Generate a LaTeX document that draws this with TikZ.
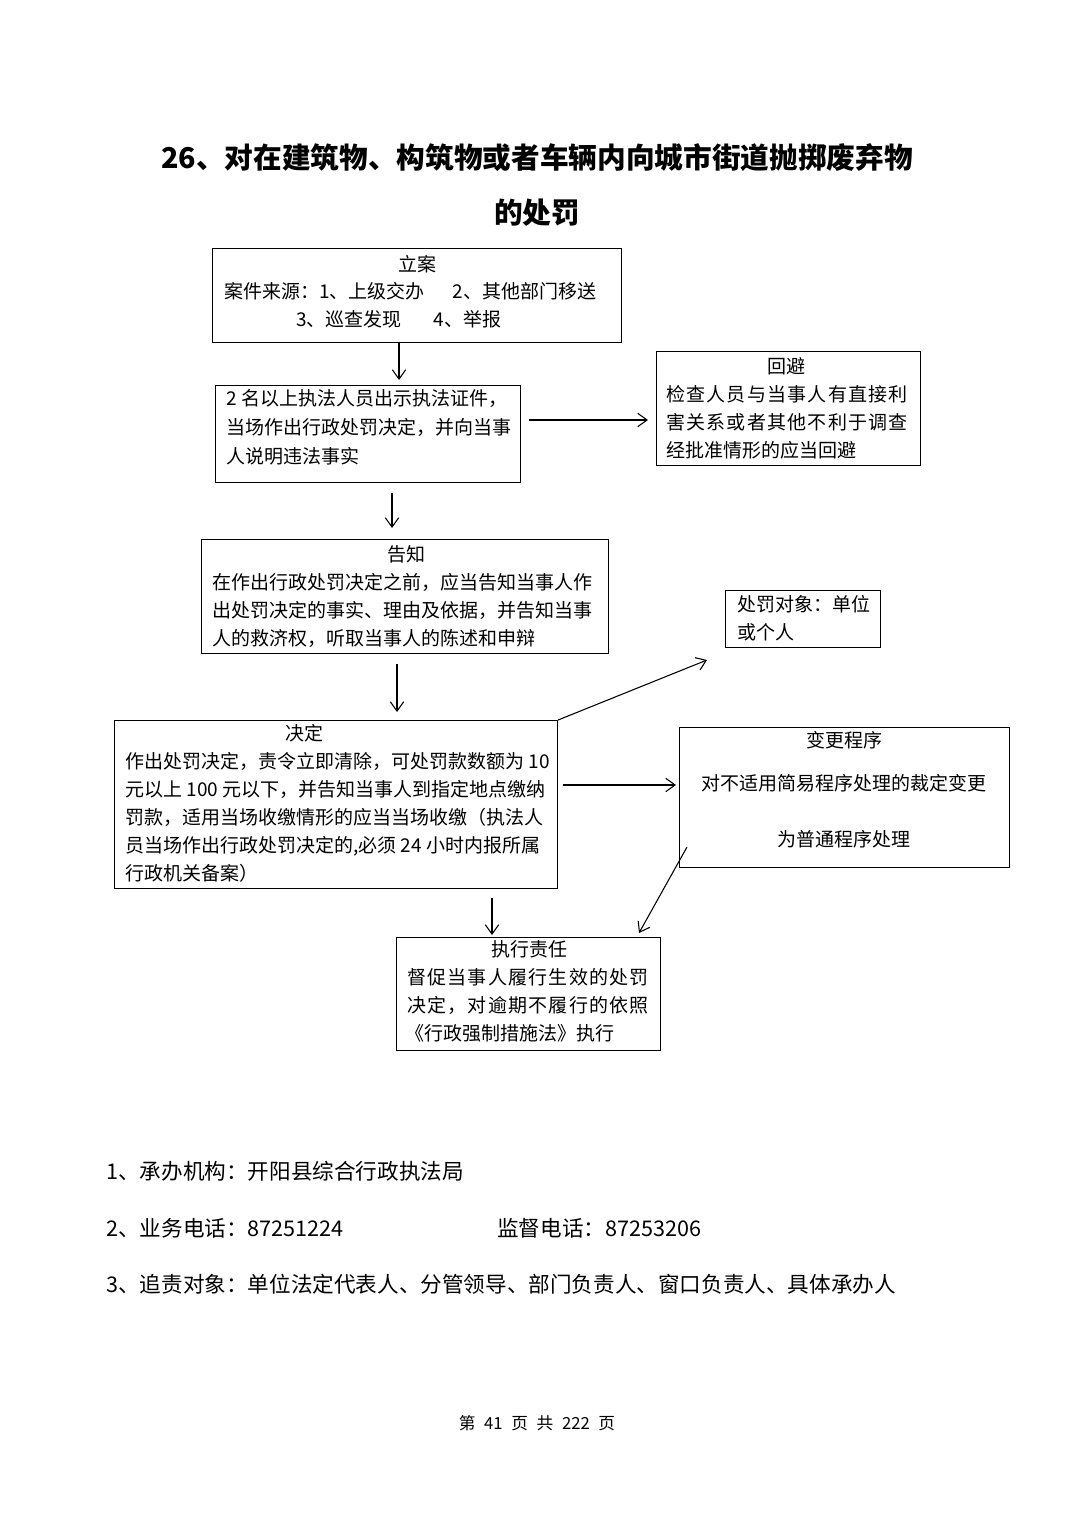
\documentclass[tikz,border=0pt]{standalone}
\usepackage{fontspec}
\setmainfont{Noto Sans CJK SC}
\usetikzlibrary{arrows.meta}
\newcommand\boxfont{\fontsize{14.25pt}{17pt}\selectfont}
\newcommand\wideboxfont{\fontsize{14.25pt}{17pt}\selectfont\addfontfeatures{LetterSpace=6.5}}
\newcommand\titlefont{\fontsize{21.5pt}{26pt}\selectfont\bfseries}
\newcommand\notefont{\fontsize{16.2pt}{20pt}\selectfont}
\newcommand\footfont{\fontsize{12.5pt}{15pt}\selectfont}
\begin{document}
\begin{tikzpicture}[x=0.75pt,y=-0.75pt,
  boxn/.style={draw,line width=0.8pt,inner sep=0pt,anchor=north west},
  lt/.style={inner sep=0pt,anchor=base west,font=\boxfont},
  wlt/.style={inner sep=0pt,anchor=base west,font=\wideboxfont},
  ct/.style={inner sep=0pt,anchor=base,font=\boxfont},
  nt/.style={inner sep=0pt,anchor=base west,font=\notefont},
  arr/.style={line width=0.8pt,-{Straight Barb[length=7pt,width=10pt,line width=0.8pt]}}]
\useasboundingbox[fill=white] (0,0) rectangle (1074,1520);

% title
\node[inner sep=0pt,anchor=base,font=\titlefont] (t1) at (537,168) {26、对在建筑物、构筑物或者车辆内向城市街道抛掷废弃物};
\node[inner sep=0pt,anchor=base,font=\titlefont] (t2) at (537,223) {的处罚};

% boxes
\node[boxn,minimum width=306.75pt,minimum height=70.5pt] (b1) at (212,248) {};
\node[boxn,minimum width=228.75pt,minimum height=72.75pt] (b2) at (215,385) {};
\node[boxn,minimum width=198pt,minimum height=85.5pt] (hb) at (656,351) {};
\node[boxn,minimum width=305.25pt,minimum height=85.5pt] (gz) at (201,539) {};
\node[boxn,minimum width=116.25pt,minimum height=42.75pt] (dx) at (725,590) {};
\node[boxn,minimum width=332.25pt,minimum height=126pt] (jd) at (114,720) {};
\node[boxn,minimum width=247.5pt,minimum height=105pt] (bg) at (679,727) {};
\node[boxn,minimum width=198pt,minimum height=84.75pt] (zx) at (396,937) {};

% box 1 text
\node[ct] (b1h) at (417,271) {立案};
\node[lt] (b1a) at (224,298) {案件来源：1、上级交办\hspace{21pt}2、其他部门移送};
\node[lt] (b1b) at (296,326) {3、巡查发现\hspace{24pt}4、举报};

% box 2 text
\node[lt] (b2a) at (226,405) {2 名以上执法人员出示执法证件，};
\node[lt] (b2b) at (226,434) {当场作出行政处罚决定，并向当事};
\node[lt] (b2c) at (226,463) {人说明违法事实};

% avoid box
\node[ct] (hbh) at (786,373) {回避};
\node[wlt] (hba) at (666,401) {检查人员与当事人有直接利};
\node[wlt] (hbb) at (666,429) {害关系或者其他不利于调查};
\node[lt] (hbc) at (666,457) {经批准情形的应当回避};

% notify box
\node[ct] (gzh) at (406,561) {告知};
\node[lt] (gza) at (212,589) {在作出行政处罚决定之前，应当告知当事人作};
\node[lt] (gzb) at (212,617) {出处罚决定的事实、理由及依据，并告知当事};
\node[lt] (gzc) at (212,645) {人的救济权，听取当事人的陈述和申辩};

% object box
\node[lt] (dxa) at (737,611) {处罚对象：单位};
\node[lt] (dxb) at (737,639) {或个人};

% decision box
\node[ct] (jdh) at (304,740) {决定};
\node[lt] (jda) at (125,768) {作出处罚决定，责令立即清除，可处罚款数额为 10};
\node[lt] (jdb) at (125,796) {元以上 100 元以下，并告知当事人到指定地点缴纳};
\node[lt] (jdc) at (125,824) {罚款，适用当场收缴情形的应当当场收缴（执法人};
\node[lt] (jdd) at (125,852) {员当场作出行政处罚决定的,必须 24 小时内报所属};
\node[lt] (jde) at (125,880) {行政机关备案）};

% change box
\node[ct] (bgh) at (844,747) {变更程序};
\node[ct] (bga) at (844,790) {对不适用简易程序处理的裁定变更};
\node[ct] (bgb) at (844,846) {为普通程序处理};

% execution box
\node[ct] (zxh) at (529,956) {执行责任};
\node[wlt] (zxa) at (407,984) {督促当事人履行生效的处罚};
\node[wlt] (zxb) at (407,1012) {决定，对逾期不履行的依照};
\node[lt] (zxc) at (405,1040) {《行政强制措施法》执行};

% arrows
\draw[arr,shorten >=3.75pt] (b1.south -| 399,0) -- (b2.north -| 399,0);
\draw[arr,shorten <=6pt,shorten >=6pt] (b2.east |- 0,420) -- (hb.west |- 0,420);
\draw[arr,shorten <=7.5pt,shorten >=8.25pt] (b2.south -| 392,0) -- (gz.north -| 392,0);
\draw[arr,shorten <=7.5pt,shorten >=6pt] (gz.south -| 397,0) -- (jd.north -| 397,0);
\coordinate (dxp) at (707,660);
\draw[arr] (jd.north east) -- (dxp);
\draw[arr,shorten <=3.75pt,shorten >=2.25pt] (jd.east |- 0,785) -- (bg.west |- 0,785);
\draw[arr,shorten <=6.75pt,shorten >=1.5pt] (jd.south -| 492,0) -- (zx.north -| 492,0);
\coordinate (bgs) at (687,847);
\coordinate (zxe) at (639,933);
\draw[arr] (bgs) -- (zxe);

% notes
\node[nt] (n1) at (106,1179) {1、承办机构：开阳县综合行政执法局};
\node[nt] (n2) at (106,1236) {2、业务电话：87251224};
\node[nt] (n2b) at (497,1236) {监督电话：87253206};
\node[nt] (n3) at (106,1292) {3、追责对象：单位法定代表人、分管领导、部门负责人、窗口负责人、具体承办人};

% footer
\node[inner sep=0pt,anchor=base,font=\footfont] (ft) at (537,1429) {第\hspace{6.5pt}41\hspace{6.5pt}页\hspace{6.5pt}共\hspace{6.5pt}222\hspace{6.5pt}页};
\end{tikzpicture}
\end{document}
